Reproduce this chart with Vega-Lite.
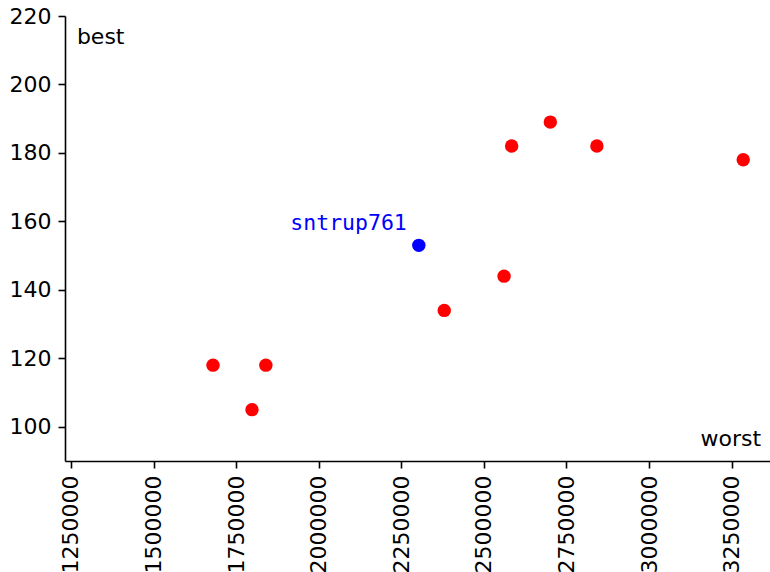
{
  "$schema": "https://vega.github.io/schema/vega-lite/v6.json",
  "width": 705,
  "height": 445,
  "autosize": "none",
  "padding": {"left": 65, "top": 16, "right": 0, "bottom": 111},
  "background": "white",
  "config": {
    "view": {"stroke": null},
    "font": "DejaVu Sans",
    "axis": {
      "grid": false,
      "title": null,
      "domainColor": "black",
      "domainWidth": 1.6,
      "tickColor": "black",
      "tickWidth": 1.6,
      "tickSize": 7,
      "labelFont": "DejaVu Sans",
      "labelFontSize": 22,
      "labelColor": "black",
      "labelPadding": 7,
      "labelFlush": false,
      "labelOverlap": false
    }
  },
  "datasets": {
    "points": [
      {"x": 1680000, "y": 118, "group": "other", "name": ""},
      {"x": 1798000, "y": 105, "group": "other", "name": ""},
      {"x": 1840000, "y": 118, "group": "other", "name": ""},
      {"x": 2303000, "y": 153, "group": "sntrup761", "name": "sntrup761"},
      {"x": 2380000, "y": 134, "group": "other", "name": ""},
      {"x": 2561000, "y": 144, "group": "other", "name": ""},
      {"x": 2584000, "y": 182, "group": "other", "name": ""},
      {"x": 2701000, "y": 189, "group": "other", "name": ""},
      {"x": 2842000, "y": 182, "group": "other", "name": ""},
      {"x": 3285000, "y": 178, "group": "other", "name": ""}
    ],
    "corners": [
      {"x": 1268000, "y": 211.8, "label": "best", "side": "left"},
      {"x": 3339000, "y": 94.5, "label": "worst", "side": "right"}
    ]
  },
  "layer": [
    {
      "mark": {"type": "rule", "color": "black", "strokeWidth": 1.6},
      "encoding": {
        "y": {"datum": 220, "type": "quantitative", "scale": {"domain": [90, 220], "nice": false, "zero": false}}
      }
    },
    {
      "data": {"name": "points"},
      "mark": {"type": "circle", "size": 180, "opacity": 1},
      "encoding": {
        "x": {
          "field": "x",
          "type": "quantitative",
          "scale": {"domain": [1232000, 3366000], "nice": false, "zero": false},
          "axis": {
            "values": [1250000, 1500000, 1750000, 2000000, 2250000, 2500000, 2750000, 3000000, 3250000],
            "format": "d",
            "labelAngle": 270
          }
        },
        "y": {
          "field": "y",
          "type": "quantitative",
          "scale": {"domain": [90, 220], "nice": false, "zero": false},
          "axis": {"values": [100, 120, 140, 160, 180, 200, 220]}
        },
        "color": {
          "field": "group",
          "type": "nominal",
          "scale": {"domain": ["other", "sntrup761"], "range": ["#ff0000", "#0000ff"]},
          "legend": null
        }
      }
    },
    {
      "data": {"name": "points"},
      "transform": [{"filter": "datum.name == 'sntrup761'"}],
      "mark": {
        "type": "text",
        "font": "DejaVu Sans Mono",
        "fontSize": 21.5,
        "color": "#0000ff",
        "align": "right",
        "baseline": "alphabetic",
        "dx": -12,
        "dy": -15
      },
      "encoding": {
        "x": {"field": "x", "type": "quantitative"},
        "y": {"field": "y", "type": "quantitative"},
        "text": {"field": "name"}
      }
    },
    {
      "data": {"name": "corners"},
      "transform": [{"filter": "datum.side == 'left'"}],
      "mark": {"type": "text", "fontSize": 22, "color": "black", "align": "left", "baseline": "alphabetic"},
      "encoding": {
        "x": {"field": "x", "type": "quantitative"},
        "y": {"field": "y", "type": "quantitative"},
        "text": {"field": "label"}
      }
    },
    {
      "data": {"name": "corners"},
      "transform": [{"filter": "datum.side == 'right'"}],
      "mark": {"type": "text", "fontSize": 22, "color": "black", "align": "right", "baseline": "alphabetic"},
      "encoding": {
        "x": {"field": "x", "type": "quantitative"},
        "y": {"field": "y", "type": "quantitative"},
        "text": {"field": "label"}
      }
    }
  ]
}
